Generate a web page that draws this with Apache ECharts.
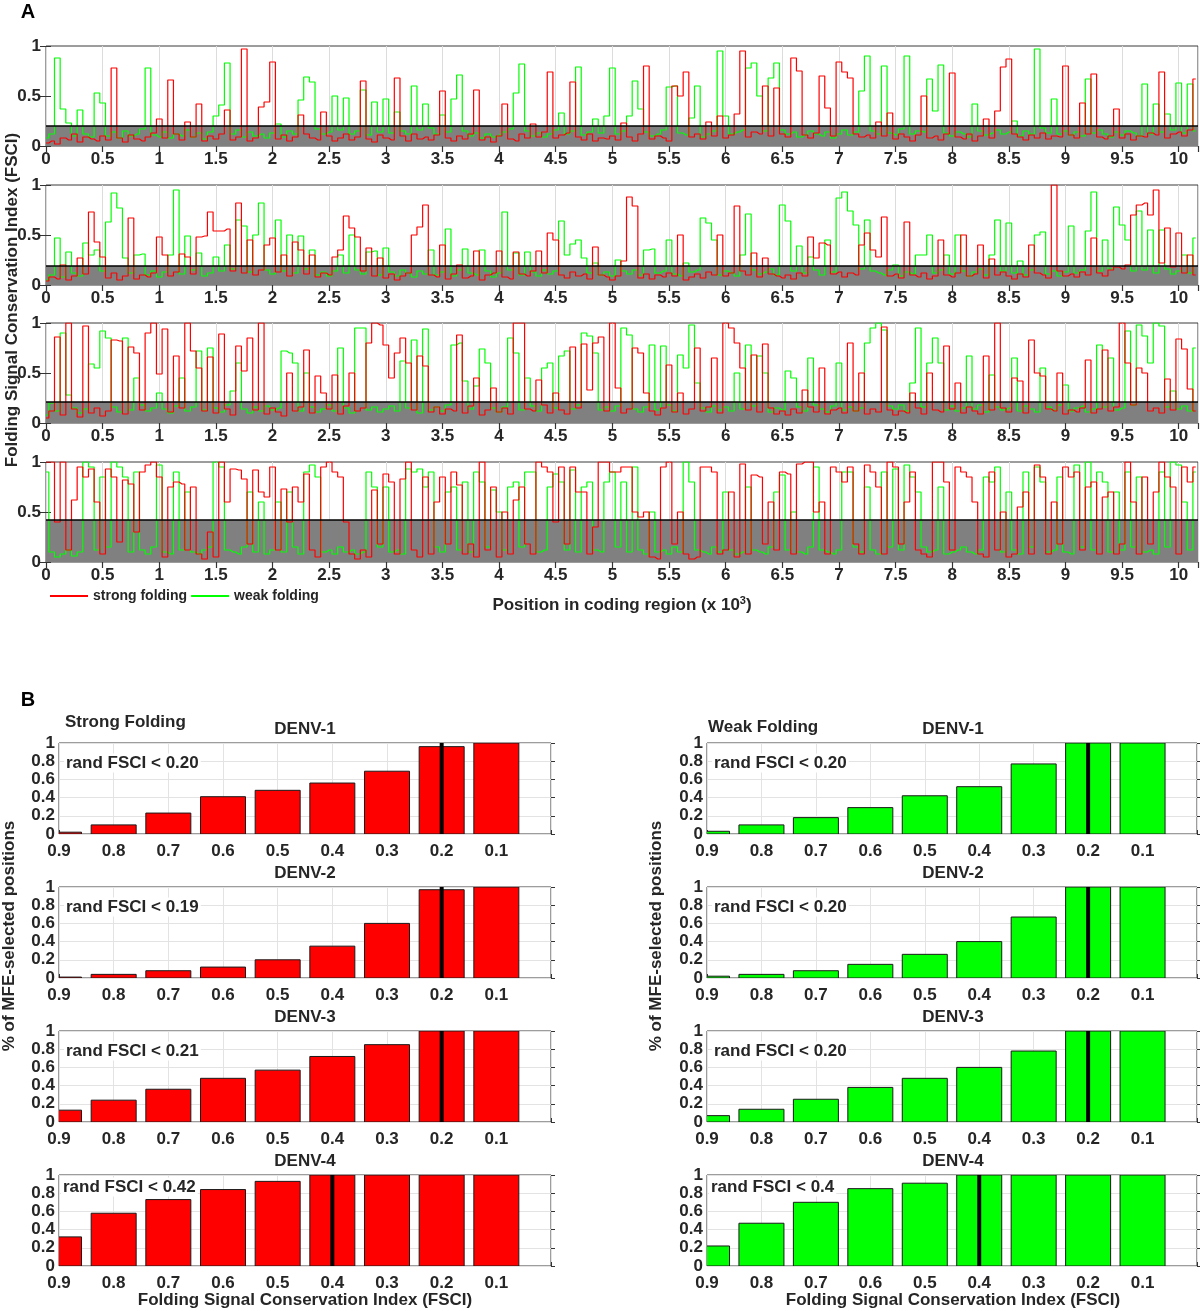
<!DOCTYPE html>
<html><head><meta charset="utf-8">
<script src="https://cdn.jsdelivr.net/npm/echarts/dist/echarts.min.js"></script>
<style>html,body{margin:0;padding:0;background:#fff}#c{width:1200px;height:1311px}</style>
</head><body><div id="c"></div>
<script>
// ---------------- DATA ----------------
// Panel A: FSCI along the coding region, sampled every STEP_KB kb (values are FSCI x 100)
const STEP_KB = 0.05;
const GENOME_KB = 10.17;
const thresholdsA = [0.20, 0.19, 0.21, 0.42];

const strongA1 = [3,5,2,8,6,12,4,9,7,5, 10,6,78,8,4,11,7,5,9,13, 27,8,66,12,6,24,9,42,5,10, 7,12,36,6,9,97,5,8,39,44,
 84,7,11,5,9,31,12,8,6,34, 10,5,8,12,6,9,65,7,4,11, 8,6,68,10,5,12,7,9,6,11, 55,8,5,10,7,12,56,6,9,4,
 10,42,7,5,12,8,22,9,14,74, 8,11,13,64,9,6,12,5,8,7, 10,6,23,9,5,12,80,7,10,8, 5,60,50,74,9,12,7,24,10,30,
 8,11,32,95,9,14,12,60,10,58, 12,9,88,75,11,8,13,70,38,10, 84,74,68,12,9,11,8,24,10,33, 7,12,9,5,11,50,8,10,6,12,
 73,9,7,12,5,10,27,8,35,79, 87,12,9,6,11,8,13,7,10,9, 80,11,8,43,12,72,9,7,10,37, 8,12,6,10,9,13,11,74,8,12, 14,10,16,67];
const weakA1 = [8,12,88,37,23,10,36,12,9,53, 43,10,14,8,15,10,12,17,78,11, 9,14,8,12,10,16,9,13,7,14, 30,41,83,12,16,9,14,10,12,8,
 13,22,9,15,12,46,69,64,17,12, 14,50,16,48,12,15,56,11,44,14, 47,13,34,15,12,60,16,42,18,12, 31,14,47,71,15,10,13,8,12,9,
 11,14,17,53,82,15,10,13,9,12, 16,33,12,15,79,11,14,27,13,30, 78,12,15,30,65,37,14,10,12,16, 59,60,13,11,28,60,9,12,15,95,
 30,12,14,16,78,83,50,15,68,83, 16,12,14,9,11,15,12,10,14,8, 12,16,11,14,55,90,15,12,80,13, 11,17,90,12,15,14,67,35,81,13,
 10,14,12,9,42,15,11,13,16,12, 14,25,10,15,12,97,18,13,47,12, 15,11,14,10,67,13,16,12,9,14, 11,15,13,10,62,12,42,14,32,16, 63,13,62,15];

const strongA2 = [4,8,6,20,5,9,27,11,73,43, 28,7,12,5,9,67,6,10,8,12, 48,30,9,13,31,28,11,48,49,73, 54,54,56,14,82,12,45,10,15,40,
 47,13,30,9,43,35,11,30,8,12, 10,28,35,69,57,48,14,37,9,27, 7,11,5,9,12,50,58,80,10,8, 40,6,11,20,7,9,34,5,10,12,
 34,8,6,33,11,9,14,34,12,52, 45,10,7,13,9,11,6,38,10,8, 5,9,24,88,79,7,11,6,10,8, 12,9,50,5,8,11,7,13,10,50,
 9,12,79,14,10,32,8,27,11,9, 7,10,6,12,9,48,27,42,40,11, 13,8,12,10,40,52,35,28,68,9, 11,7,63,10,8,12,6,9,45,10,
 8,12,50,9,11,40,7,26,10,13, 9,6,11,8,40,12,10,7,100,14, 9,11,8,13,10,47,12,9,15,18, 16,20,70,80,82,70,95,22,57,18, 52,12,30,10];
const weakA2 = [5,10,47,8,33,12,9,42,30,35, 14,63,92,77,27,12,30,31,10,14, 8,13,30,95,11,49,15,32,9,12, 28,14,40,16,65,59,13,50,82,15,
 11,65,14,50,12,49,16,35,10,13, 9,14,30,12,50,15,11,33,34,10, 37,13,9,15,12,8,14,11,35,10, 13,56,9,15,36,12,10,35,14,8,
 12,73,15,32,10,33,13,9,15,11, 14,64,30,41,45,27,12,22,10,13, 9,25,14,11,15,10,35,36,12,14, 45,11,9,22,13,15,67,62,45,10,
 14,12,9,30,71,15,11,13,16,10, 80,64,14,39,12,28,15,10,45,13, 87,93,74,60,16,65,14,12,10,15, 20,9,13,11,30,30,50,12,15,30,
 11,50,14,9,13,16,10,30,65,14, 62,12,24,10,15,50,53,11,14,9, 13,59,12,15,54,93,14,45,16,78, 60,45,14,74,15,55,12,55,16,11, 14,30,12,47];

const strongA3 = [5,12,86,8,100,14,6,97,10,15, 7,12,83,82,9,76,70,13,90,100, 49,94,11,67,15,100,72,55,12,66, 10,89,14,8,77,52,85,13,100,9,
 15,11,7,50,12,16,73,10,47,30, 14,48,9,17,50,12,15,80,100,98, 78,45,70,85,60,13,67,57,11,16, 9,14,12,88,10,17,45,8,13,35,
 11,15,9,100,100,14,12,43,18,10, 30,13,9,76,15,79,33,80,86,12, 100,35,10,14,75,70,30,12,8,15, 58,11,30,9,14,75,12,16,65,10,
 100,95,80,55,13,68,11,79,15,9, 12,8,14,10,33,16,11,55,9,13, 15,10,80,12,50,9,14,11,96,13, 8,12,10,30,15,9,50,13,11,77,
 14,40,10,16,12,9,67,13,100,15, 11,45,42,10,83,50,47,14,12,50, 9,13,11,15,63,10,14,73,12,16, 100,60,18,55,50,12,15,10,44,13, 84,74,34,12];
const weakA3 = [8,20,12,90,28,15,10,14,59,55, 92,85,16,11,85,13,45,18,12,15, 30,14,10,17,45,12,16,72,13,75, 15,11,18,32,60,14,10,16,12,17,
 13,15,72,70,60,12,50,16,11,14, 18,12,75,15,10,95,95,13,16,11, 14,17,12,62,15,83,10,94,13,16, 12,18,78,80,42,14,37,74,60,15,
 11,16,85,70,13,45,17,12,55,60, 15,67,72,14,18,90,87,70,13,16, 12,17,95,88,14,11,16,78,13,77, 18,12,68,55,98,40,15,11,17,13,
 16,12,50,14,78,17,67,50,11,15, 13,52,45,16,12,65,18,14,11,17, 60,13,16,12,15,80,95,100,93,17, 14,18,12,40,95,16,60,85,60,13,
 17,12,15,67,14,18,11,48,16,13, 15,65,12,17,14,11,55,16,13,18, 38,12,15,17,11,14,78,16,65,13, 15,92,18,98,87,60,100,97,16,32, 14,17,12,75];

const strongA4 = [100,100,40,100,12,62,95,85,93,60, 8,93,85,20,82,78,30,90,97,100, 85,5,75,80,78,12,75,8,3,30, 5,100,60,93,92,83,18,92,70,65,
 95,12,73,40,75,60,88,12,5,95, 100,90,85,40,8,3,12,5,72,18, 88,80,8,83,100,12,5,85,8,60, 85,18,90,77,8,18,5,100,12,75,
 5,50,8,62,75,18,8,100,95,90, 40,95,18,95,70,70,8,35,100,100, 90,90,95,95,50,45,50,5,3,95, 100,18,50,8,3,5,95,95,90,8,
 12,70,5,98,8,87,85,18,60,12, 90,88,8,98,100,100,50,60,8,95, 90,80,95,18,8,97,90,75,8,100, 95,18,60,90,12,8,5,100,100,80,
 12,95,90,85,60,8,5,90,12,50, 5,8,55,70,8,97,85,8,60,18, 95,85,90,12,75,80,8,65,70,8, 18,100,60,8,85,18,70,100,85,75, 8,95,80,95];
const weakA4 = [90,10,5,8,12,6,10,100,95,12, 85,15,100,95,85,10,90,12,8,15, 97,10,8,90,12,70,10,8,12,15, 100,95,12,10,8,15,70,10,60,8,
 12,60,10,70,15,8,90,97,85,10, 12,8,15,10,12,8,10,90,75,15, 75,10,12,8,93,90,93,75,90,15, 10,70,75,12,80,10,90,80,15,72,
 50,12,75,80,15,90,90,10,12,75, 88,80,12,92,10,75,80,12,10,80, 90,15,80,10,95,12,8,50,10,12, 8,15,10,100,80,12,10,8,15,10,
 70,12,8,10,75,12,10,8,15,70, 87,12,50,10,8,15,95,12,10,8, 12,90,90,15,10,75,12,8,90,15, 93,12,97,85,70,15,10,12,75,8,
 10,12,15,10,8,12,85,80,95,10, 70,12,8,90,15,95,80,10,12,85, 10,8,97,15,100,12,90,80,10,70, 12,90,15,85,10,12,8,90,15,100, 97,60,12,90];

// Panel B: fraction of MFE-selected positions per FSCI cut-off
const fsciCuts = [0.9, 0.8, 0.7, 0.6, 0.5, 0.4, 0.3, 0.2, 0.1];
const serotypes = ['DENV-1', 'DENV-2', 'DENV-3', 'DENV-4'];
const strongDENV1 = [0.02, 0.10, 0.23, 0.41, 0.48, 0.56, 0.69, 0.96, 1.00];
const strongDENV2 = [0.01, 0.04, 0.08, 0.12, 0.20, 0.35, 0.60, 0.97, 1.00];
const strongDENV3 = [0.13, 0.24, 0.36, 0.48, 0.57, 0.72, 0.85, 1.00, 1.00];
const strongDENV4 = [0.32, 0.58, 0.73, 0.84, 0.93, 1.00, 1.00, 1.00, 1.00];
const weakDENV1 = [0.03, 0.10, 0.18, 0.29, 0.42, 0.52, 0.77, 1.00, 1.00];
const weakDENV2 = [0.02, 0.04, 0.08, 0.15, 0.26, 0.40, 0.67, 1.00, 1.00];
const weakDENV3 = [0.07, 0.14, 0.25, 0.38, 0.48, 0.60, 0.78, 1.00, 1.00];
const weakDENV4 = [0.22, 0.47, 0.70, 0.85, 0.91, 1.00, 1.00, 1.00, 1.00];
const randStrong = ['0.20', '0.19', '0.21', '0.42'];
const randWeak = ['0.20', '0.20', '0.20', '0.4'];
const markStrong = [0.2, 0.2, 0.2, 0.4];
const markWeak = [0.2, 0.2, 0.2, 0.4];

// ---------------- LAYOUT / STYLE ----------------
const FONT = '"Liberation Sans", Arial, Helvetica, sans-serif';
const TXT = '#262626';
const RED = '#ff0000', GREEN = '#00ff00';
const topsA = [46, 185, 323, 462];
const heightA = 100;
const topsB = [743, 887, 1031, 1175];
const heightB = 91;
const colB = [{left: 59, width: 492}, {left: 707, width: 492}];
const BAR_PX = 45;

const grid = [], xAxis = [], yAxis = [], series = [], graphic = [];
const lbl = (size) => ({fontFamily: FONT, fontWeight: 'bold', fontSize: size, color: TXT});

function samples(arr) { return arr.map((v, i) => [+(i * STEP_KB).toFixed(3), v / 100]); }

const panelA = [[strongA1, weakA1], [strongA2, weakA2], [strongA3, weakA3], [strongA4, weakA4]];
panelA.forEach((p, k) => {
  const gi = grid.length;
  grid.push({left: 46, top: topsA[k], width: 1152, height: heightA, show: true,
    borderColor: '#3a3a3a', borderWidth: 1, backgroundColor: '#fff'});
  const xi = xAxis.length;
  xAxis.push({type: 'value', gridIndex: gi, min: 0, max: GENOME_KB, interval: 0.5,
    axisLine: {show: false}, axisTick: {show: false},
    axisLabel: Object.assign({margin: 5, showMaxLabel: false}, lbl(17)),
    splitLine: {show: true, lineStyle: {color: '#dcdcdc', width: 1}}});
  xAxis.push({type: 'value', gridIndex: gi, position: 'top', min: 0, max: GENOME_KB, interval: 0.5,
    axisLine: {show: false}, axisLabel: {show: false}, splitLine: {show: false},
    axisTick: {show: true, inside: true, length: 6, lineStyle: {color: '#333', width: 1.2}}});
  const yi = yAxis.length;
  yAxis.push({type: 'value', gridIndex: gi, min: 0, max: 1, interval: 0.5,
    axisLine: {show: false}, axisTick: {show: true, inside: true, length: 5, lineStyle: {color: '#333'}},
    axisLabel: Object.assign({margin: 5}, lbl(17)), splitLine: {show: false}});
  yAxis.push({type: 'value', gridIndex: gi, position: 'right', min: 0, max: 1, interval: 0.5,
    axisLine: {show: false}, axisLabel: {show: false}, splitLine: {show: false},
    axisTick: {show: true, inside: true, length: 6, lineStyle: {color: '#333'}}});
  const thr = thresholdsA[k];
  const thrLine = [[0, thr], [GENOME_KB, thr]];
  series.push({type: 'line', xAxisIndex: xi, yAxisIndex: yi, data: thrLine, symbol: 'none', silent: true,
    lineStyle: {width: 0}, areaStyle: {color: '#808080', opacity: 1}, z: 1, animation: false});
  series.push({name: 'weak folding', type: 'line', step: 'middle', xAxisIndex: xi, yAxisIndex: yi,
    data: samples(p[1]), symbol: 'none', showSymbol: false, color: GREEN,
    lineStyle: {color: GREEN, width: 1.2}, z: 2, animation: false});
  series.push({name: 'strong folding', type: 'line', step: 'middle', xAxisIndex: xi, yAxisIndex: yi,
    data: samples(p[0]), symbol: 'none', showSymbol: false, color: RED,
    lineStyle: {color: RED, width: 1.2}, z: 3, animation: false});
  series.push({type: 'line', xAxisIndex: xi, yAxisIndex: yi, data: thrLine, symbol: 'none', silent: true,
    lineStyle: {color: '#000', width: 1.5}, z: 4, animation: false});
});

// Panel B x axis runs from 0.9 (left) to 0 (right): plotted as -FSCI.
const strongB = [strongDENV1, strongDENV2, strongDENV3, strongDENV4];
const weakB = [weakDENV1, weakDENV2, weakDENV3, weakDENV4];
function makeBarRenderer(color) {
  return function (params, api) {
    const x = api.value(0), y = api.value(1);
    const base = api.coord([x, 0]);
    const top = api.coord([x, y]);
    return {type: 'rect',
      shape: {x: base[0] - BAR_PX / 2, y: top[1], width: BAR_PX, height: base[1] - top[1]},
      style: {fill: color, stroke: '#1a1a1a', lineWidth: 1}};
  };
}
[[strongB, RED, randStrong, markStrong], [weakB, GREEN, randWeak, markWeak]].forEach((col, c) => {
  const [sets, color, rands, marks] = col;
  sets.forEach((vals, r) => {
    const gi = grid.length;
    grid.push({left: colB[c].left, top: topsB[r], width: colB[c].width, height: heightB, show: true,
      borderColor: '#3a3a3a', borderWidth: 1, backgroundColor: '#fff'});
    const xi = xAxis.length;
    xAxis.push({type: 'value', gridIndex: gi, min: -0.9, max: 0, interval: 0.1,
      axisLine: {show: false}, axisTick: {show: true, inside: true, length: 4, lineStyle: {color: '#333'}},
      axisLabel: Object.assign({margin: 9, formatter: v => (v > -0.05 ? '' : (-v).toFixed(1))}, lbl(17)),
      splitLine: {show: true, lineStyle: {color: '#e3e3e3'}}});
    const yi = yAxis.length;
    yAxis.push({type: 'value', gridIndex: gi, min: 0, max: 1, interval: 0.2,
      axisLine: {show: false}, axisTick: {show: true, inside: true, length: 4, lineStyle: {color: '#333'}},
      axisLabel: Object.assign({margin: 4, formatter: v => String(+v.toFixed(1))}, lbl(17)),
      splitLine: {show: true, lineStyle: {color: '#e3e3e3'}}});
    series.push({type: 'custom', xAxisIndex: xi, yAxisIndex: yi, clip: true, encode: {x: 0, y: 1},
      data: fsciCuts.map((f, i) => [-f, vals[i]]), renderItem: makeBarRenderer(color), z: 2, animation: false});
    series.push({type: 'line', xAxisIndex: xi, yAxisIndex: yi, data: [[-marks[r], 0], [-marks[r], 1]],
      symbol: 'none', silent: true, lineStyle: {color: '#000', width: 4}, z: 3, animation: false});
    const cx = colB[c].left + colB[c].width / 2;
    graphic.push({type: 'text', z: 100, x: cx, y: topsB[r] - 14,
      style: {text: serotypes[r], font: 'bold 17px ' + FONT, fill: TXT, align: 'center', verticalAlign: 'middle'}});
    const ty = r === 3 ? topsB[r] + 12 : topsB[r] + 20;
    const tx = r === 3 ? colB[c].left + 2 : colB[c].left + 5;
    graphic.push({type: 'text', z: 100, x: tx, y: ty,
      style: {text: 'rand FSCI < ' + rands[r], font: 'bold 17px ' + FONT, fill: TXT, align: 'left', verticalAlign: 'middle',
        backgroundColor: '#fff', padding: [1, 2, 1, 2]}});
  });
  const cx = colB[c].left + colB[c].width / 2;
  graphic.push({type: 'text', z: 100, x: cx, y: 1300,
    style: {text: 'Folding Signal Conservation Index (FSCI)', font: 'bold 17px ' + FONT, fill: TXT, align: 'center', verticalAlign: 'middle'}});
  graphic.push({type: 'text', z: 100, x: c === 0 ? 9 : 656, y: 936, rotation: Math.PI / 2,
    style: {text: '% of MFE-selected positions', font: 'bold 17px ' + FONT, fill: TXT, align: 'center', verticalAlign: 'middle'}});
});

graphic.push({type: 'text', z: 100, x: 28, y: 12, style: {text: 'A', font: 'bold 20px ' + FONT, fill: '#000', align: 'center', verticalAlign: 'middle'}});
graphic.push({type: 'text', z: 100, x: 28, y: 700, style: {text: 'B', font: 'bold 20px ' + FONT, fill: '#000', align: 'center', verticalAlign: 'middle'}});
graphic.push({type: 'text', z: 100, x: 65, y: 722, style: {text: 'Strong Folding', font: 'bold 17px ' + FONT, fill: TXT, align: 'left', verticalAlign: 'middle'}});
graphic.push({type: 'text', z: 100, x: 708, y: 727, style: {text: 'Weak Folding', font: 'bold 17px ' + FONT, fill: TXT, align: 'left', verticalAlign: 'middle'}});
graphic.push({type: 'text', z: 100, x: 12, y: 300, rotation: Math.PI / 2,
  style: {text: 'Folding Signal Conservation Index (FSCI)', font: 'bold 17px ' + FONT, fill: TXT, align: 'center', verticalAlign: 'middle'}});
graphic.push({type: 'text', z: 100, x: 622, y: 605,
  style: {text: '{a|Position in coding region (x 10}{s|3}{a|)}', align: 'center', verticalAlign: 'middle',
    rich: {a: {font: 'bold 17px ' + FONT, fill: TXT}, s: {font: 'bold 11px ' + FONT, fill: TXT, padding: [0, 0, 9, 0]}}}});

const chart = echarts.init(document.getElementById('c'), null, {renderer: 'canvas'});
chart.setOption({
  animation: false,
  backgroundColor: '#fff',
  grid, xAxis, yAxis, series, graphic,
  legend: {left: 50, top: 589, padding: 0, itemWidth: 38, itemHeight: 2, itemGap: 4, icon: 'rect',
    data: ['strong folding', 'weak folding'], textStyle: lbl(14), selectedMode: false}
});
</script></body></html>
